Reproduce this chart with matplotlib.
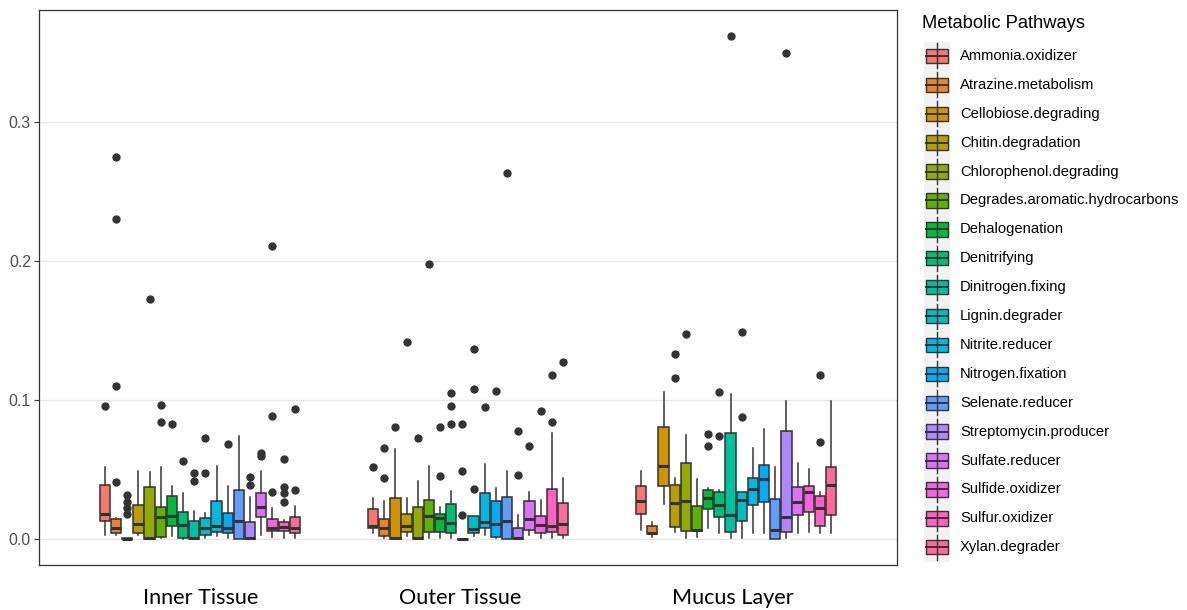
import numpy as np
import matplotlib
matplotlib.use("Agg")
import matplotlib.pyplot as plt
from matplotlib.patches import Rectangle

plt.rcParams["font.family"] = ["Liberation Sans", "DejaVu Sans"]

# ---- data -------------------------------------------------------------
sites = ["Inner Tissue", "Outer Tissue", "Mucus Layer"]
pathways = [
    "Ammonia.oxidizer", "Atrazine.metabolism", "Cellobiose.degrading",
    "Chitin.degradation", "Chlorophenol.degrading",
    "Degrades.aromatic.hydrocarbons", "Dehalogenation", "Denitrifying",
    "Dinitrogen.fixing", "Lignin.degrader", "Nitrite.reducer",
    "Nitrogen.fixation", "Selenate.reducer", "Streptomycin.producer",
    "Sulfate.reducer", "Sulfide.oxidizer", "Sulfur.oxidizer", "Xylan.degrader",
]

# box statistics per site (rows) and pathway (columns)
whisker_low = [
    [.003, .003, 0, .003, 0, .0005, .002, 0, 0, .0005, .0024, .001, 0, 0, .003, .0017, .0005, .0005],
    [.0041, .001, 0, .0022, 0, .0005, .001, .001, 0, .0022, .003, .0005, 0, 0, .003, .0005, .0005, .0005],
    [.0065, .0012, .0252, .0053, .0005, .0017, .0077, .0041, .0005, .0005, .0045, .0041, 0, .0005, .0041, .0053, .0045, .0045],
]
q1 = [
    [.0132, .0045, 0, .0045, .0003, .0012, .0094, .0005, .0003, .003, .0053, .0045, .0003, .0003, .0156, .006, .006, .0045],
    [.0077, .0022, .0003, .0053, .0003, .0053, .0053, .0041, 0, .0041, .0077, .0017, .0003, .0003, .0065, .0045, .0053, .003],
    [.0178, .0034, .0384, .0084, .0058, .0058, .0216, .016, .0048, .0129, .0245, .0264, 0, .0048, .0173, .0197, .0096, .0173],
]
median = [
    [.018, .0077, 0, .0108, .0005, .0156, .0168, .0101, .001, .0081, .0094, .0077, .0132, .0005, .0233, .0077, .0089, .0077],
    [.0096, .0077, .0005, .0094, .0005, .0165, .0149, .0117, 0, .007, .0124, .0108, .0132, .0008, .0142, .0101, .0094, .0108],
    [.0271, .0041, .0525, .0261, .0273, .0065, .0297, .0245, .0173, .028, .036, .043, .0065, .016, .0264, .034, .0221, .0388],
]
q3 = [
    [.0386, .0144, .0005, .0245, .0376, .0233, .031, .0194, .0132, .0153, .0273, .0189, .0353, .0124, .0329, .0144, .0122, .016],
    [.0216, .0144, .0293, .0182, .0233, .0278, .018, .0252, 0, .0165, .0333, .0273, .030, .0077, .0273, .0165, .036, .0261],
    [.0384, .0094, .0803, .0388, .0544, .024, .0353, .0336, .076, .034, .0441, .0532, .0288, .0777, .0376, .0384, .0312, .052],
]
whisker_high = [
    [.0516, .015, .0008, .049, .048, .0516, .038, .0329, .0204, .0185, .0527, .038, .074, .030, .0492, .0221, .014, .0237],
    [.0297, .0273, .0647, .0293, .042, .0527, .0228, .0348, 0, .0165, .054, .0365, .049, .0173, .034, .028, .0765, .0441],
    [.0491, .012, .1055, .0437, .0748, .043, .0369, .0353, .1043, .034, .0657, .0789, .052, .0993, .0549, .0504, .0336, .0993],
]
outliers = [
    [[.0957], [.041, .110, .230, .2748], [.0178, .0223, .0264, .032], [],
     [.173], [.0842, .0966], [.0825], [.0561], [.042, .0472], [.0472, .0729],
     [], [.068], [], [.0388, .0444], [.0597, .0616], [.0336, .0887, .211],
     [.0264, .0333, .0376, .0576], [.0353, .0933]],
    [[.0516], [.0441, .0655], [.0808], [.142], [.0724], [.198], [.0453, .0808],
     [.0825, .0957, .105], [.0173, .049, .0825], [.036, .108, .137], [.0947],
     [.1067], [.263], [.046, .0777], [.0667], [.0923], [.084, .118], [.127]],
    [[], [], [], [.116, .1333], [.1475], [], [.0671, .0755], [.0739, .106],
     [.3617], [.088, .1487], [], [], [], [.350], [], [], [.0696, .118], []],
]
y_ticks = [0.0, 0.1, 0.2, 0.3]


# ---- ggplot-style hue palette (HCL, c=100, l=65) ----------------------
def hcl_to_hex(h, c=100.0, l=65.0):
    hr = np.deg2rad(h)
    u, v = c * np.cos(hr), c * np.sin(hr)
    xn, yn, zn = 95.047, 100.0, 108.883
    yy = yn * ((l + 16) / 116) ** 3
    un = 4 * xn / (xn + 15 * yn + 3 * zn)
    vn = 9 * yn / (xn + 15 * yn + 3 * zn)
    up = u / (13 * l) + un
    vp = v / (13 * l) + vn
    xx = yy * 9 * up / (4 * vp)
    zz = yy * (12 - 3 * up - 20 * vp) / (4 * vp)
    m = np.array([[3.2404542, -1.5371385, -0.4985314],
                  [-0.9692660, 1.8760108, 0.0415560],
                  [0.0556434, -0.2040259, 1.0572252]])
    rgb = m @ (np.array([xx, yy, zz]) / 100)
    rgb = np.where(rgb <= 0.0031308, 12.92 * rgb,
                   1.055 * np.abs(rgb) ** (1 / 2.4) - 0.055)
    rgb = np.clip(rgb, 0, 1)
    return "#%02x%02x%02x" % tuple(int(round(x * 255)) for x in rgb)


n_path = len(pathways)
hues = np.linspace(15, 375, n_path + 1)[:-1]
colors = [hcl_to_hex(h) for h in hues]

EDGE = "#333333"
FS_TEXT = 10.6
FS_TITLE = 13.2

# ---- figure -------------------------------------------------------------
fig = plt.figure(figsize=(11.87, 6.10), dpi=100)
W, H = 1187, 610
left, right, top, bottom = 39, 897, 10, 565
ax = fig.add_axes([left / W, 1 - bottom / H, (right - left) / W, (bottom - top) / H])

dodge = 0.75
slot = dodge / n_path
for g, site in enumerate(sites):
    for k in range(n_path):
        pos = (g + 1) - dodge / 2 + slot * (k + 0.5)
        stats = [dict(med=median[g][k], q1=q1[g][k], q3=q3[g][k],
                      whislo=whisker_low[g][k], whishi=whisker_high[g][k],
                      fliers=np.array(outliers[g][k]), label=pathways[k])]
        ax.bxp(stats, positions=[pos], widths=slot * 0.92, patch_artist=True,
               showcaps=False, manage_ticks=False,
               boxprops=dict(facecolor=colors[k], edgecolor=EDGE, linewidth=1.1),
               medianprops=dict(color=EDGE, linewidth=2.2, solid_capstyle="butt"),
               whiskerprops=dict(color=EDGE, linewidth=1.1),
               flierprops=dict(marker="o", markersize=5.0, markerfacecolor=EDGE,
                               markeredgecolor=EDGE, linestyle="none"))

ax.set_xlim(0.4, 3.6)
ax.set_ylim(-0.0187, 0.3806)
ax.set_yticks(y_ticks)
ax.set_yticklabels([f"{t:.1f}" for t in y_ticks])
ax.set_xticks([1, 2, 3])
ax.set_xticklabels([])
ax.tick_params(axis="y", length=3.3, width=0.8, color=EDGE, labelcolor="#4D4D4D",
               labelsize=11.4, pad=2.5)
ax.tick_params(axis="x", length=0)
ax.grid(axis="y", color="#E6E6E6", linewidth=1.0)
ax.set_axisbelow(True)
for sp in ax.spines.values():
    sp.set_color(EDGE)
    sp.set_linewidth(0.9)

# ---- overlay in pixel coordinates: site labels and legend ---------------
ov = fig.add_axes([0, 0, 1, 1], zorder=5)
ov.set_xlim(0, W)
ov.set_ylim(H, 0)
ov.axis("off")
ov.patch.set_alpha(0)

for site, cx in zip(sites, [200.5, 460, 733]):
    ov.text(cx, 604, site, ha="center", va="baseline", fontsize=15.6,
            family="Lato", color="black")

ov.text(922, 23, "Metabolic Pathways", ha="left", va="center",
        fontsize=FS_TITLE, color="black")
key_top, key_step = 41.5, 28.9
for k, name in enumerate(pathways):
    cy = key_top + key_step * (k + 0.5)
    ov.add_patch(Rectangle((924, cy - key_step / 2), 26, key_step,
                           facecolor="#F2F2F2", edgecolor="none"))
    ov.plot([937, 937], [cy - 12.5, cy + 12.5], color=EDGE, linewidth=1.0)
    ov.add_patch(Rectangle((926, cy - 7.2), 22, 14.4, facecolor=colors[k],
                           edgecolor=EDGE, linewidth=1.0))
    ov.plot([926, 948], [cy, cy], color=EDGE, linewidth=1.4)
    ov.text(960, cy, name, ha="left", va="center", fontsize=FS_TEXT,
            color="black")

fig.savefig("out.png", dpi=100)
